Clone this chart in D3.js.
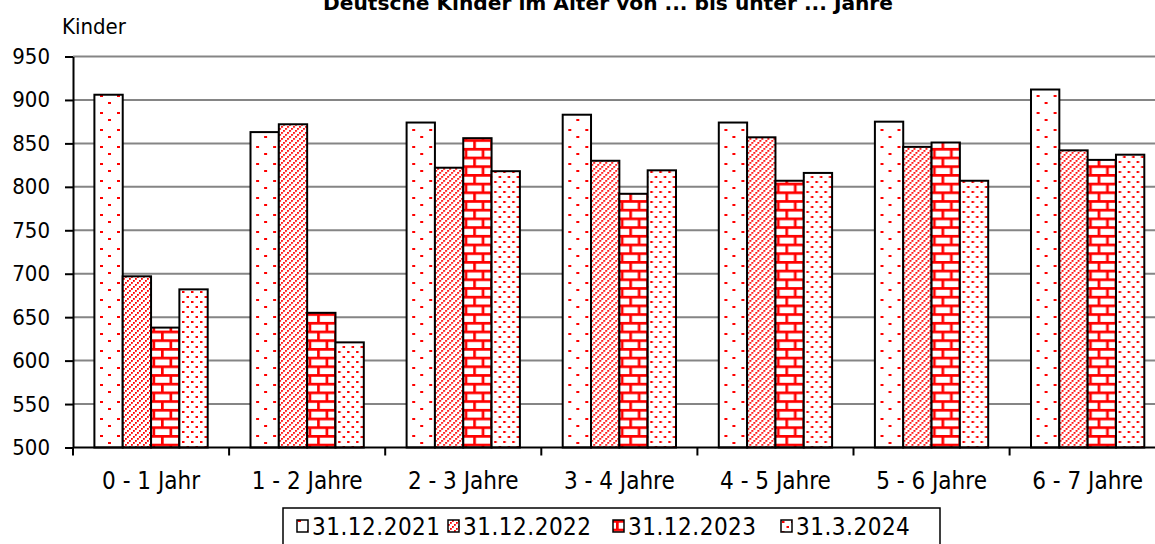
<!DOCTYPE html>
<html>
<head>
<meta charset="utf-8">
<script src="https://cdn.jsdelivr.net/npm/d3@7"></script>
<style>
  body { margin: 0; background: #fff; overflow: hidden; }
  svg { display: block; font-family: "DejaVu Sans Condensed", "DejaVu Sans", sans-serif; }
</style>
</head>
<body>
<script>
// categories (age groups)
var ageGroups = ["0 - 1 Jahr", "1 - 2 Jahre", "2 - 3 Jahre", "3 - 4 Jahre", "4 - 5 Jahre", "5 - 6 Jahre", "6 - 7 Jahre"];
// reference dates (series)
var dates = ["31.12.2021", "31.12.2022", "31.12.2023", "31.3.2024"];
// children per age group, one array per date
var kids2021 = [906, 863, 874, 883, 874, 875, 912];
var kids2022 = [697, 872, 822, 830, 857, 846, 842];
var kids2023 = [638, 655, 856, 792, 807, 851, 831];
var kids2024 = [682, 621, 818, 819, 816, 807, 837];
var yTicks = [500, 550, 600, 650, 700, 750, 800, 850, 900, 950];

var seriesValues = [kids2021, kids2022, kids2023, kids2024];
var patternIds = ["p2021", "p2022", "p2023", "p2024"];

var svgWidth = 1155, svgHeight = 544;
var left = 73, plotTop = 56.5, plotBottom = 447.5;
var band = 156.1;

var svg = d3.select("body").append("svg")
    .attr("width", svgWidth)
    .attr("height", svgHeight);

// fill patterns
var defs = svg.append("defs");
var red = "#ff0000";

var p1 = defs.append("pattern").attr("id", "p2021")
    .attr("patternUnits", "userSpaceOnUse").attr("width", 17).attr("height", 17)
    .attr("x", 95).attr("y", 0);
p1.append("rect").attr("width", 17).attr("height", 17).attr("fill", "#fff");
p1.append("rect").attr("x", 8).attr("y", 0).attr("width", 3).attr("height", 2).attr("fill", red);
p1.append("rect").attr("x", 0).attr("y", 10).attr("width", 3).attr("height", 2).attr("fill", red);

// dotted upward diagonals
var p2 = defs.append("pattern").attr("id", "p2022")
    .attr("patternUnits", "userSpaceOnUse").attr("width", 6).attr("height", 6);
p2.append("rect").attr("width", 6).attr("height", 6).attr("fill", "#fff");
[[4, 0], [2, 2], [0, 4]].forEach(function(p) {
  p2.append("rect").attr("x", p[0]).attr("y", p[1])
      .attr("width", 1.8).attr("height", 1.8).attr("fill", red);
});

// bricks
var p3 = defs.append("pattern").attr("id", "p2023")
    .attr("patternUnits", "userSpaceOnUse").attr("width", 17).attr("height", 17.4);
p3.append("rect").attr("width", 17).attr("height", 17.4).attr("fill", "#fff");
p3.append("rect").attr("x", 0).attr("y", 0).attr("width", 17).attr("height", 2.7).attr("fill", red);
p3.append("rect").attr("x", 0).attr("y", 8.7).attr("width", 17).attr("height", 2.7).attr("fill", red);
p3.append("rect").attr("x", 3).attr("y", 0).attr("width", 2.7).attr("height", 8.7).attr("fill", red);
p3.append("rect").attr("x", 11.5).attr("y", 8.7).attr("width", 2.7).attr("height", 8.7).attr("fill", red);

// small dots
var p4 = defs.append("pattern").attr("id", "p2024")
    .attr("patternUnits", "userSpaceOnUse").attr("width", 9).attr("height", 10);
p4.append("rect").attr("width", 9).attr("height", 10).attr("fill", "#fff");
p4.append("rect").attr("x", 1).attr("y", 1).attr("width", 2.5).attr("height", 2).attr("fill", red);
p4.append("rect").attr("x", 5.5).attr("y", 6).attr("width", 2.5).attr("height", 2).attr("fill", red);

// scales
var xScale = d3.scaleBand()
    .domain(ageGroups)
    .range([left, left + band * ageGroups.length]);

var xInner = d3.scaleBand()
    .domain(dates)
    .range([21.4, band - 21.4]);

var yScale = d3.scaleLinear()
    .domain([500, 950])
    .range([plotBottom, plotTop]);

// gridlines
svg.append("g")
    .selectAll("line")
    .data(yTicks.filter(d => d > 500))
    .enter()
    .append("line")
    .attr("x1", left)
    .attr("x2", svgWidth)
    .attr("y1", d => yScale(d))
    .attr("y2", d => yScale(d))
    .attr("stroke", "#858585")
    .attr("stroke-width", 2);

// bars
var groups = svg.append("g")
    .selectAll("g")
    .data(ageGroups)
    .enter()
    .append("g")
    .attr("transform", d => `translate(${xScale(d)},0)`);

groups.selectAll("rect")
    .data((d, i) => dates.map((date, j) => ({ date: date, value: seriesValues[j][i], pat: patternIds[j] })))
    .enter()
    .append("rect")
    .attr("x", d => xInner(d.date))
    .attr("y", d => yScale(d.value))
    .attr("width", xInner.bandwidth())
    .attr("height", d => yScale(500) - yScale(d.value))
    .attr("fill", d => `url(#${d.pat})`)
    .attr("stroke", "#000")
    .attr("stroke-width", 2);

// y axis
var yAxis = d3.axisLeft(yScale)
    .tickValues(yTicks)
    .tickSize(8)
    .tickSizeOuter(0)
    .tickPadding(15);

var yg = svg.append("g")
    .attr("transform", `translate(${left},0)`)
    .call(yAxis);
yg.select(".domain").attr("stroke", "#000").attr("stroke-width", 2);
yg.selectAll(".tick line").attr("stroke", "#000").attr("stroke-width", 2);
yg.selectAll(".tick text")
    .attr("font-family", "'DejaVu Sans Condensed', 'DejaVu Sans', sans-serif")
    .attr("font-size", 22)
    .attr("fill", "#000");

// x axis: ticks at category boundaries
svg.append("line")
    .attr("x1", left).attr("x2", svgWidth)
    .attr("y1", plotBottom).attr("y2", plotBottom)
    .attr("stroke", "#000").attr("stroke-width", 2);

svg.append("g")
    .selectAll("line")
    .data(ageGroups)
    .enter()
    .append("line")
    .attr("x1", d => xScale(d))
    .attr("x2", d => xScale(d))
    .attr("y1", plotBottom)
    .attr("y2", plotBottom + 8)
    .attr("stroke", "#000")
    .attr("stroke-width", 2);

svg.append("g")
    .selectAll("text")
    .data(ageGroups)
    .enter()
    .append("text")
    .attr("x", d => xScale(d) + xScale.bandwidth() / 2)
    .attr("y", 489)
    .attr("text-anchor", "middle")
    .attr("font-size", 24)
    .attr("fill", "#000")
    .text(d => d);

// title (sits at the very top edge, as in the source)
svg.append("text")
    .attr("x", 608)
    .attr("y", 10)
    .attr("text-anchor", "middle")
    .attr("font-size", 20)
    .attr("font-weight", "bold")
    .attr("textLength", 570)
    .attr("lengthAdjust", "spacingAndGlyphs")
    .text("Deutsche Kinder im Alter von ... bis unter ... Jahre");

svg.append("text")
    .attr("x", 62)
    .attr("y", 34)
    .attr("font-size", 22)
    .attr("fill", "#000")
    .text("Kinder");

// legend
var legend = svg.append("g");
legend.append("rect")
    .attr("x", 283).attr("y", 508)
    .attr("width", 657).attr("height", 50)
    .attr("fill", "#fff")
    .attr("stroke", "#000")
    .attr("stroke-width", 1.5);

var legendX = [297, 448, 613, 781];
var items = legend.selectAll("g.item")
    .data(dates)
    .enter()
    .append("g")
    .attr("class", "item")
    .attr("transform", (d, i) => `translate(${legendX[i]},520)`);

items.append("rect")
    .attr("x", 0).attr("y", 0)
    .attr("width", 11).attr("height", 12)
    .attr("fill", (d, i) => `url(#${patternIds[i]})`)
    .attr("stroke", "#000")
    .attr("stroke-width", 1.5);

items.append("text")
    .attr("x", 15)
    .attr("y", 15)
    .attr("font-size", 24)
    .attr("letter-spacing", 0.5)
    .attr("fill", "#000")
    .text(d => d);
</script>
</body>
</html>
